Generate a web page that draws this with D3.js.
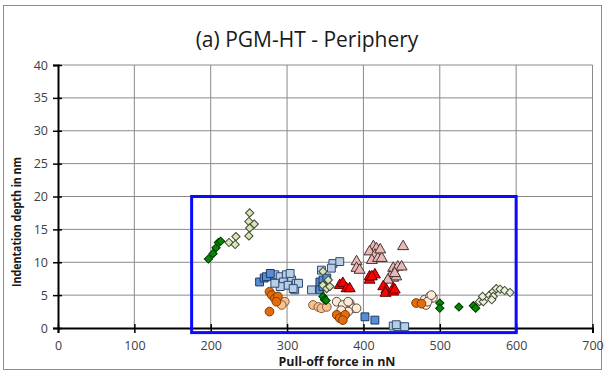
<!DOCTYPE html>
<html>
<head>
<meta charset="utf-8">
<script src="https://cdn.jsdelivr.net/npm/d3@7"></script>
<style>
  body { margin: 0; background: #fff; }
  text { font-family: 'Open Sans', 'Noto Sans', sans-serif; }
</style>
</head>
<body>
<div id="chart"></div>
<script>
const width = 606
const height = 377
const margin = { left: 58, right: 13, top: 65, bottom: 49 }

// Data: [pull-off force nN, indentation depth nm]
const darkGreenDiamonds = [
  [197, 10.5], [203, 11.3], [207, 12.2], [210, 13.0], [213, 13.2],
  [347, 4.8], [349, 4.3], [351, 4.2],
  [500, 3.8], [500, 3.0], [525, 3.2], [544, 3.4], [547, 3.0]
]
const lightGreenDiamonds = [
  [251, 17.5], [250, 16.2], [257, 15.8], [251, 15.2], [250, 14.0],
  [233, 13.9], [224, 13.0], [232, 12.7],
  [347, 8.6], [354, 7.3], [347, 6.5], [352, 6.0], [356, 6.3]
]
const paleGreenDiamonds = [
  [552, 4.0], [557, 4.0], [556, 4.8], [565, 5.0], [570, 5.5], [574, 6.0],
  [579, 5.9], [585, 5.7], [592, 5.4], [570, 4.8], [568, 4.3]
]
const blueSquares = [
  [264, 7.0], [270, 7.6], [273, 7.8], [278, 8.3], [343, 7.0],
  [347, 7.3], [352, 7.6], [343, 5.8], [347, 6.3], [402, 1.7], [415, 1.2]
]
const lightBlueSquares = [
  [284, 8.1], [291, 7.8], [299, 8.1], [295, 7.0], [306, 7.3], [312, 6.8],
  [301, 6.5], [310, 5.8], [291, 6.3], [284, 6.8], [304, 8.3], [315, 6.8],
  [308, 6.0], [332, 5.8], [360, 9.8], [369, 10.1], [358, 9.1], [345, 8.8],
  [439, 0.3], [445, 0.2], [454, 0.2], [443, 0.5]
]
const orangeCircles = [
  [277, 5.5], [280, 5.0], [284, 4.5], [288, 4.8], [286, 4.0], [277, 2.5],
  [365, 2.0], [369, 1.5], [376, 2.0], [373, 1.2],
  [469, 3.8], [476, 3.7]
]
const peachCircles = [
  [297, 4.0], [293, 3.5], [334, 3.5], [341, 3.2], [345, 3.0], [352, 3.2]
]
const paleCircles = [
  [365, 4.0], [373, 3.5], [382, 3.8], [387, 3.0], [380, 2.5], [371, 2.7],
  [380, 4.0], [391, 3.0],
  [480, 4.3], [487, 4.8], [491, 4.6], [482, 3.5], [484, 4.0], [489, 5.0]
]
const redTriangles = [
  [369, 6.5], [373, 6.8], [378, 6.0], [382, 6.0],
  [408, 7.3], [408, 7.8], [415, 8.1], [411, 7.8],
  [426, 6.3], [430, 5.8], [429, 5.3], [439, 6.0], [439, 5.5], [441, 5.8]
]
const pinkTriangles = [
  [413, 12.4], [417, 12.1], [408, 11.6], [415, 11.1], [411, 10.3], [419, 10.6],
  [424, 10.6], [422, 11.9], [391, 10.1], [391, 9.1], [395, 8.8], [452, 12.4],
  [439, 9.1], [445, 9.3], [450, 9.3], [435, 7.8], [439, 7.6], [443, 7.8],
  [432, 7.3], [441, 8.3]
]

const xTicks = [0, 100, 200, 300, 400, 500, 600, 700]
const yTicks = [0, 5, 10, 15, 20, 25, 30, 35, 40]
const box = { x0: 175, x1: 600, y0: -0.7, y1: 20 }

// diamonds are squares turned by 45 degrees
const series = [
  { data: lightBlueSquares, shape: d3.symbolSquare, size: 62, rot: 0, fill: '#b9cde5', stroke: '#2b4a70' },
  { data: blueSquares, shape: d3.symbolSquare, size: 62, rot: 0, fill: '#558ed5', stroke: '#1f3864' },
  { data: paleCircles, shape: d3.symbolCircle, size: 60, rot: 0, fill: '#fde9d9', stroke: '#5a4a40' },
  { data: peachCircles, shape: d3.symbolCircle, size: 60, rot: 0, fill: '#fac090', stroke: '#7f5a3a' },
  { data: orangeCircles, shape: d3.symbolCircle, size: 60, rot: 0, fill: '#e46c0a', stroke: '#7f3c05' },
  { data: pinkTriangles, shape: d3.symbolTriangle, size: 52, rot: 0, fill: '#e6b9b8', stroke: '#4a3030' },
  { data: redTriangles, shape: d3.symbolTriangle, size: 52, rot: 0, fill: '#ff0000', stroke: '#600000' },
  { data: lightGreenDiamonds, shape: d3.symbolSquare, size: 34, rot: 45, fill: '#d7e4bd', stroke: '#3f4a30' },
  { data: paleGreenDiamonds, shape: d3.symbolSquare, size: 34, rot: 45, fill: '#ebf1de', stroke: '#3f4a30' },
  { data: darkGreenDiamonds, shape: d3.symbolSquare, size: 34, rot: 45, fill: '#008a00', stroke: '#003300' }
]

const svg = d3.select('#chart').append('svg')
  .attr('width', width)
  .attr('height', height)

svg.append('rect')
  .attr('x', 3.5).attr('y', 5.5)
  .attr('width', 598).attr('height', 364)
  .attr('fill', '#fff')
  .attr('stroke', '#8c8c8c')

const xScale = d3.scaleLinear().domain([0, 700]).range([margin.left, width - margin.right - 0.5])
const yScale = d3.scaleLinear().domain([0, 40]).range([height - margin.bottom, margin.top])

// gridlines
svg.append('g').selectAll('line.h').data(yTicks.slice(1)).join('line')
  .attr('x1', xScale(0)).attr('x2', xScale(700))
  .attr('y1', d => yScale(d)).attr('y2', d => yScale(d))
  .attr('stroke', '#8a8a8a').attr('stroke-width', 1)
svg.append('g').selectAll('line.v').data(xTicks.slice(1)).join('line')
  .attr('x1', d => xScale(d)).attr('x2', d => xScale(d))
  .attr('y1', yScale(0)).attr('y2', yScale(40))
  .attr('stroke', '#8a8a8a').attr('stroke-width', 1)

// axes
const xAxis = svg.append('g')
  .attr('transform', `translate(0,${yScale(0)})`)
  .call(d3.axisBottom(xScale).tickValues(xTicks).tickSize(5).tickPadding(8))
const yAxis = svg.append('g')
  .attr('transform', `translate(${xScale(0)},0)`)
  .call(d3.axisLeft(yScale).tickValues(yTicks).tickSize(5).tickPadding(5))

for (const ax of [xAxis, yAxis]) {
  ax.select('.domain').attr('stroke', '#000').attr('stroke-width', 2)
  ax.selectAll('.tick line').attr('stroke', '#000').attr('stroke-width', 1.5)
  ax.selectAll('.tick text')
    .attr('font-family', "'Open Sans', sans-serif")
    .attr('font-size', 12.5)
    .attr('fill', '#404040')
}
xAxis.selectAll('.tick').append('line')
  .attr('y1', -4).attr('y2', 0).attr('stroke', '#000').attr('stroke-width', 1.5)
yAxis.selectAll('.tick').append('line')
  .attr('x1', 0).attr('x2', 4).attr('stroke', '#000').attr('stroke-width', 1.5)

// points
for (const s of series) {
  svg.append('g').selectAll('path').data(s.data).join('path')
    .attr('d', d3.symbol().type(s.shape).size(s.size))
    .attr('transform', d => `translate(${xScale(d[0])},${yScale(d[1])}) rotate(${s.rot})`)
    .attr('fill', s.fill)
    .attr('stroke', s.stroke)
    .attr('stroke-width', 1)
}

// highlight box
svg.append('rect')
  .attr('x', xScale(box.x0)).attr('y', yScale(box.y1))
  .attr('width', xScale(box.x1) - xScale(box.x0))
  .attr('height', yScale(box.y0) - yScale(box.y1))
  .attr('fill', 'none')
  .attr('stroke', '#0a0aff')
  .attr('stroke-width', 3)

// titles
svg.append('text')
  .attr('x', 307).attr('y', 47)
  .attr('text-anchor', 'middle')
  .attr('font-size', 21)
  .attr('fill', '#1a1a1a')
  .text('(a) PGM-HT - Periphery')

svg.append('text')
  .attr('x', 337).attr('y', 366)
  .attr('text-anchor', 'middle')
  .attr('font-size', 12)
  .attr('font-weight', 'bold')
  .attr('fill', '#1a1a1a')
  .attr('textLength', 117)
  .attr('lengthAdjust', 'spacingAndGlyphs')
  .text('Pull-off force in nN')

svg.append('text')
  .attr('transform', 'translate(21,222) rotate(-90)')
  .attr('text-anchor', 'middle')
  .attr('font-size', 12)
  .attr('font-weight', 'bold')
  .attr('fill', '#1a1a1a')
  .attr('textLength', 130)
  .attr('lengthAdjust', 'spacingAndGlyphs')
  .text('Indentation depth in nm')
</script>
</body>
</html>
